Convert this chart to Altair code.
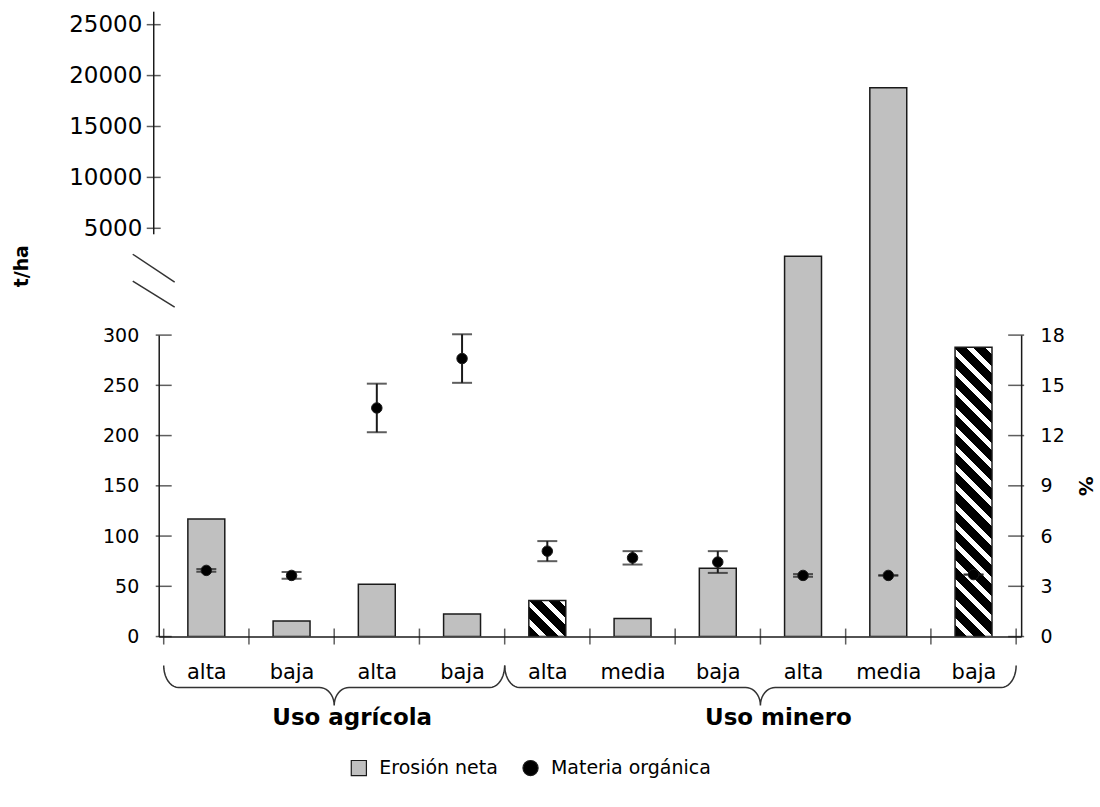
import json
import math

import altair as alt
import pandas as pd

# --- data -------------------------------------------------------------
categorias = ["alta", "baja", "alta", "baja", "alta", "media", "baja", "alta", "media", "baja"]
usos = ["Uso agrícola"] * 4 + ["Uso minero"] * 6
# net erosion, t/ha
erosion = [117, 15.5, 52, 22.5, 36, 18, 68, 2250, 18800, 288]
# bars drawn with diagonal hatching
rayado = [False, False, False, False, True, False, False, False, False, True]
# organic matter, % (mean and error)
materia = [3.95, 3.65, 13.65, 16.6, 5.1, 4.7, 4.45, 3.65, 3.65, 3.7]
error_mo = [0.08, 0.2, 1.45, 1.45, 0.6, 0.4, 0.65, 0.08, 0.0, 0.0]

ticks_bajo = [0, 50, 100, 150, 200, 250, 300]
ticks_pct = [0, 3, 6, 9, 12, 15, 18]
ticks_alto = [5000, 10000, 15000, 20000, 25000]
grupos = ["Uso agrícola", "Uso minero"]
grupo_inicio = [0, 4]
grupo_fin = [4, 10]

# --- layout -----------------------------------------------------------
W = 864
H_LOW = 302
H_UP = 324
BAR_W = 37
LOW_DOMAIN = [0, 300]
PCT_DOMAIN = [0, 18]
UP_DOMAIN = [-5490, 26275]
FONT = "DejaVu Sans"
INK = "#1a1a1a"
GRIS = "#c0c0c0"

df = pd.DataFrame({
    "pos": [i + 0.5 for i in range(len(categorias))],
    "categoria": categorias,
    "uso": usos,
    "erosion": erosion,
    "rayado": rayado,
    "mo": materia,
    "err": error_mo,
})

x_scale = alt.Scale(domain=[0, len(categorias)], nice=False, zero=False)
label_expr = json.dumps(categorias) + "[floor(datum.value)]"
x_axis = alt.Axis(values=[i + 0.5 for i in range(len(categorias))], labelExpr=label_expr,
                  ticks=False, grid=False, title=None, labelFontSize=21, labelPadding=25,
                  domainColor=INK, domainWidth=1.5, labelFont=FONT, labelColor="black")

low_scale = alt.Scale(domain=LOW_DOMAIN, nice=False, zero=False)
low_axis = alt.Axis(values=ticks_bajo, ticks=False, grid=False, title=None, labelFontSize=19,
                    labelPadding=20, domainColor=INK, domainWidth=1.5, labelFont=FONT,
                    labelColor="black")
pct_scale = alt.Scale(domain=PCT_DOMAIN, nice=False, zero=False)
pct_axis = alt.Axis(orient="right", values=ticks_pct, ticks=False, grid=False, title="%",
                    titleFontSize=20, titleFontWeight="bold", titleAngle=90, titlePadding=10,
                    titleFont=FONT, titleColor="black", labelFontSize=19, labelPadding=19,
                    domainColor=INK, domainWidth=1.5, labelFont=FONT, labelColor="black")

series = ["Erosión neta", "Materia orgánica"]
leyenda = alt.Legend(
    orient="none", legendX=191, legendY=424, direction="horizontal", title=None,
    symbolSize=230, symbolStrokeColor=INK, symbolStrokeWidth=1.2, symbolOpacity=1,
    labelFontSize=19, labelFont=FONT, labelColor="black", labelLimit=0,
    columnPadding=22, labelOffset=11,
)
fill_scale = alt.Scale(domain=series, range=[GRIS, "black"])
stroke_scale = alt.Scale(domain=series, range=[INK, INK])
shape_scale = alt.Scale(domain=series, range=["square", "circle"])


def rayas(w, h, periodo=14.0, blanco=0.36):
    """Linear gradient that paints 45-degree stripes across a w x h box."""
    a = w / h
    s = (a + 1) / (a * a + 1)
    n = max(1, round((w + h) / math.sqrt(2) / periodo))
    stops = []
    for k in range(n):
        t0, t1, t2 = k / n, (k + 1 - blanco) / n, (k + 1) / n
        stops += [alt.GradientStop(offset=t0, color="black"),
                  alt.GradientStop(offset=t1, color="black"),
                  alt.GradientStop(offset=t1, color="white"),
                  alt.GradientStop(offset=t2, color="white")]
    return alt.LinearGradient(gradient="linear", x1=0, y1=1, x2=s * a, y2=1 - s, stops=stops)


# --- lower panel: t/ha (left) ------------------------------------------
base_low = alt.Chart(df)
x_enc = alt.X("pos:Q", scale=x_scale, axis=x_axis)

barras = base_low.transform_filter("!datum.rayado").transform_calculate(
    serie="'Erosión neta'"
).mark_bar(size=BAR_W, strokeWidth=1.5, clip=True).encode(
    x=x_enc,
    y=alt.Y("erosion:Q", scale=low_scale, axis=low_axis),
    fill=alt.Fill("serie:N", scale=fill_scale, legend=leyenda),
    stroke=alt.Stroke("serie:N", scale=stroke_scale, legend=leyenda),
)

capas_rayadas = []
for i, r in enumerate(rayado):
    if not r:
        continue
    h_px = erosion[i] * H_LOW / (LOW_DOMAIN[1] - LOW_DOMAIN[0])
    capas_rayadas.append(
        base_low.transform_filter(f"datum.pos == {i + 0.5}")
        .mark_bar(size=BAR_W, stroke=INK, strokeWidth=1.5, clip=True, fill=rayas(BAR_W, h_px))
        .encode(x=x_enc, y=alt.Y("erosion:Q", scale=low_scale, axis=low_axis))
    )

# crossing tick marks on the three axis lines
marcas_y = pd.DataFrame({"xv": [0] * len(ticks_bajo) + [len(categorias)] * len(ticks_bajo),
                         "yv": ticks_bajo * 2})
marcas_x = pd.DataFrame({"xv": list(range(len(categorias) + 1)), "yv": [0] * (len(categorias) + 1)})
ticks_y = alt.Chart(marcas_y).mark_tick(orient="horizontal", size=16, thickness=1.5, color=INK).encode(
    x=alt.X("xv:Q", scale=x_scale, axis=x_axis),
    y=alt.Y("yv:Q", scale=low_scale, axis=low_axis),
)
ticks_x = alt.Chart(marcas_x).mark_tick(orient="vertical", size=16, thickness=1.5, color=INK).encode(
    x=alt.X("xv:Q", scale=x_scale, axis=x_axis),
    y=alt.Y("yv:Q", scale=low_scale, axis=low_axis),
)

# curly braces under each land-use group
Y_END, Y_MID, Y_TIP = 331, 353, 371
R = 15 / (W / len(categorias))
filas = []
for g, b0, b1 in zip(grupos, grupo_inicio, grupo_fin):
    bm = (b0 + b1) / 2
    pts = []
    for k in range(11):
        t = k / 10 * math.pi / 2
        pts.append((b0 + R * (1 - math.cos(t)), Y_END + (Y_MID - Y_END) * math.sin(t)))
    for k in range(11):
        t = k / 10 * math.pi / 2
        pts.append((bm - R + R * math.sin(t), Y_MID + (Y_TIP - Y_MID) * (1 - math.cos(t))))
    for k in range(11):
        t = (10 - k) / 10 * math.pi / 2
        pts.append((bm + R - R * math.sin(t), Y_MID + (Y_TIP - Y_MID) * (1 - math.cos(t))))
    for k in range(11):
        t = (10 - k) / 10 * math.pi / 2
        pts.append((b1 - R * (1 - math.cos(t)), Y_END + (Y_MID - Y_END) * math.sin(t)))
    for n, (bx, py) in enumerate(pts):
        filas.append({"grupo": g, "orden": n, "bx": bx, "py": py})
llaves = alt.Chart(pd.DataFrame(filas)).mark_line(color="#333333", strokeWidth=1.5).encode(
    x=alt.X("bx:Q", scale=x_scale, axis=x_axis),
    y=alt.Y("py:Q", scale=None),
    order="orden:Q",
    detail="grupo:N",
)

etiquetas_grupo = alt.Chart(pd.DataFrame({
    "grupo": grupos,
    "cx": [(a + b) / 2 for a, b in zip(grupo_inicio, grupo_fin)],
})).mark_text(font=FONT, fontSize=23, fontWeight="bold", color="black", dx=18, baseline="middle").encode(
    x=alt.X("cx:Q", scale=x_scale, axis=x_axis),
    y=alt.value(384),
    text="grupo:N",
)

capa_tha = alt.layer(barras, *capas_rayadas, ticks_y, ticks_x, llaves, etiquetas_grupo)

# --- lower panel: % (right) --------------------------------------------
base_pct = alt.Chart(df).transform_calculate(
    lo="datum.mo - datum.err", hi="datum.mo + datum.err", serie="'Materia orgánica'"
)
barra_error = base_pct.mark_rule(color=INK, strokeWidth=2).encode(
    x=x_enc, y=alt.Y("lo:Q", scale=pct_scale, axis=pct_axis), y2="hi:Q"
)
tapa_inf = base_pct.mark_tick(orient="horizontal", size=20, thickness=2, color=INK).encode(
    x=x_enc, y=alt.Y("lo:Q", scale=pct_scale, axis=pct_axis)
)
tapa_sup = base_pct.mark_tick(orient="horizontal", size=20, thickness=2, color=INK).encode(
    x=x_enc, y=alt.Y("hi:Q", scale=pct_scale, axis=pct_axis)
)
puntos = base_pct.mark_point(filled=True, size=110, opacity=1, strokeWidth=1).encode(
    x=x_enc,
    y=alt.Y("mo:Q", scale=pct_scale, axis=pct_axis),
    fill=alt.Fill("serie:N", scale=fill_scale, legend=leyenda),
    stroke=alt.Stroke("serie:N", scale=stroke_scale, legend=leyenda),
    shape=alt.Shape("serie:N", scale=shape_scale, legend=leyenda),
)
capa_pct = alt.layer(barra_error, tapa_inf, tapa_sup, puntos)

inferior = alt.layer(capa_tha, capa_pct).resolve_scale(y="independent").properties(
    width=W, height=H_LOW
)

# --- upper panel: large erosion values ----------------------------------
up_scale = alt.Scale(domain=UP_DOMAIN, nice=False, zero=False)
up_axis = alt.Axis(values=ticks_alto, format="d", ticks=False, domain=False, grid=False, title=None,
                   labelFontSize=23, labelPadding=17, labelFont=FONT, labelColor="black")

barras_altas = alt.Chart(df).transform_filter(
    f"datum.erosion > {LOW_DOMAIN[1]}"
).transform_calculate(
    base=str(UP_DOMAIN[0] - 1000)
).mark_bar(size=BAR_W, fill=GRIS, stroke=INK, strokeWidth=1.5, clip=True).encode(
    x=alt.X("pos:Q", scale=x_scale, axis=None),
    y=alt.Y("erosion:Q", scale=up_scale, axis=up_axis),
    y2="base:Q",
)
eje_alto = alt.Chart(pd.DataFrame({"y0": [4412], "y1": [UP_DOMAIN[1]]})).mark_rule(
    color=INK, strokeWidth=1.5
).encode(
    x=alt.value(-5),
    y=alt.Y("y0:Q", scale=up_scale, axis=up_axis),
    y2="y1:Q",
)
ticks_alto_m = alt.Chart(pd.DataFrame({"yv": ticks_alto})).mark_tick(
    orient="horizontal", size=14, thickness=1.5, color=INK
).encode(
    x=alt.value(-5),
    y=alt.Y("yv:Q", scale=up_scale, axis=up_axis),
)
# axis break marks
corte = alt.Chart(pd.DataFrame({
    "x1": [-26, -26], "x2": [16, 16], "y1": [243, 270], "y2": [271, 296],
})).mark_rule(color="#333333", strokeWidth=1.5).encode(
    x=alt.X("x1:Q", scale=None), x2="x2:Q",
    y=alt.Y("y1:Q", scale=None), y2="y2:Q",
)
titulo_tha = alt.Chart(pd.DataFrame({"t": ["t/ha"]})).mark_text(
    font=FONT, fontSize=19, fontWeight="bold", angle=270, color="black", baseline="middle"
).encode(x=alt.value(-137), y=alt.value(255), text="t:N")

superior = alt.layer(barras_altas, eje_alto, ticks_alto_m, corte, titulo_tha).properties(
    width=W, height=H_UP
)

chart = alt.vconcat(superior, inferior, spacing=0, bounds="flush").resolve_legend(
    fill="independent", shape="independent", stroke="independent"
).properties(
    padding={"left": 13, "top": 10, "right": 5, "bottom": 5},
    background="white",
).configure_view(stroke=None)

chart.save("out.html", embed_options={"renderer": "svg", "actions": False})
